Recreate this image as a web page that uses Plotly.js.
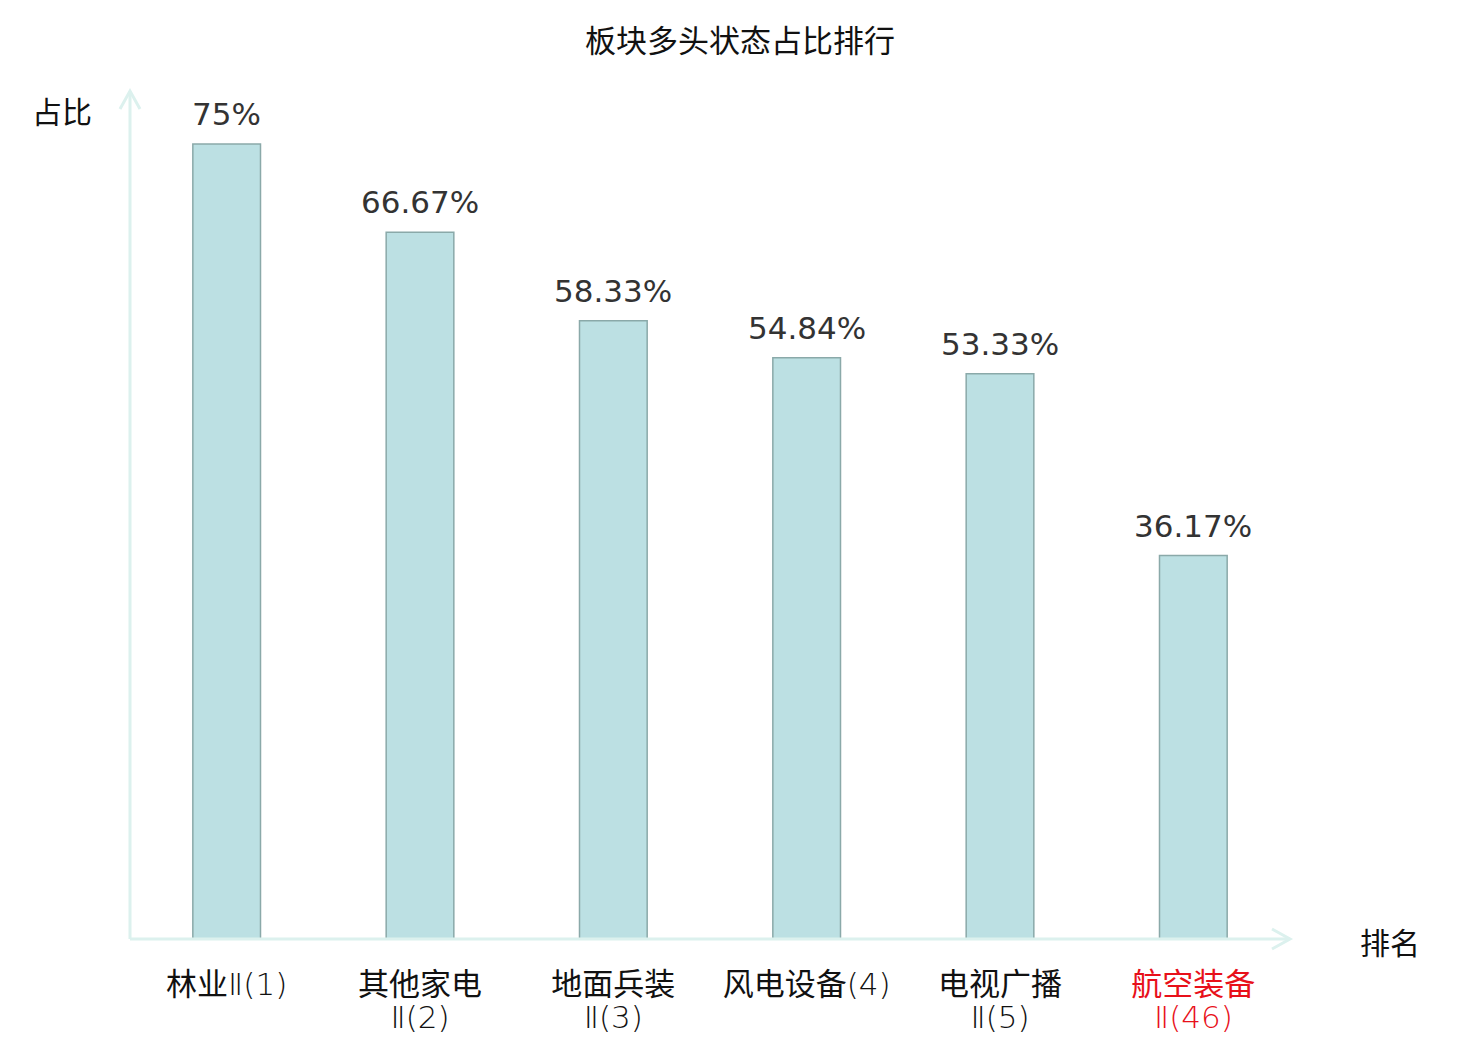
<!DOCTYPE html>
<html>
<head>
<meta charset="utf-8">
<script src="https://cdn.plot.ly/plotly-3.0.1.min.js"></script>
<style>html,body{margin:0;padding:0;background:#fff;}#chart{width:1480px;height:1040px;}</style>
</head>
<body>
<div id="chart"></div>
<script>
const categories = ["林业Ⅱ(1)", "其他家电Ⅱ(2)", "地面兵装Ⅱ(3)", "风电设备(4)", "电视广播Ⅱ(5)", "航空装备Ⅱ(46)"];
const tickLabels = ["林业Ⅱ(1)", "其他家电<br>Ⅱ(2)", "地面兵装<br>Ⅱ(3)", "风电设备(4)", "电视广播<br>Ⅱ(5)", "航空装备<br>Ⅱ(46)"];
const highlighted = [false, false, false, false, false, true];
const values = [75, 66.67, 58.33, 54.84, 53.33, 36.17];
const valueLabels = ["75%", "66.67%", "58.33%", "54.84%", "53.33%", "36.17%"];

const axisColor = "#dcf1ee";
const cjk = "Noto Sans CJK SC, sans-serif";

function styleLabel(txt, color) {
  return txt.split("<br>").map(line =>
    line.replace(/([Ⅱ()0-9]+)|([^Ⅱ()0-9]+)/g, (m, lat, cj) =>
      lat ? '<span style="font-family:DejaVu Sans;font-weight:200;font-size:31px;color:' + color + '">' + lat + '</span>'
          : '<span style="font-size:31px;color:' + color + '">' + cj + '</span>')
  ).join("<br>");
}
const styledTicks = tickLabels.map((t, i) => styleLabel(t, highlighted[i] ? "#e8101a" : "#111111"));

const trace = {
  type: "bar",
  x: categories,
  y: values,
  marker: {color: "#bce0e3", line: {color: "#8aa9a9", width: 1.5}},
  width: 0.35,
  hoverinfo: "none"
};

const valueAnnotations = categories.map((c, i) => ({
  x: c, y: values[i], xref: "x", yref: "y", text: valueLabels[i], showarrow: false,
  xanchor: "center", yanchor: "bottom", yshift: 10,
  font: {family: "DejaVu Sans, sans-serif", size: 31, color: "#333333"}
}));

const layout = {
  width: 1480, height: 1040,
  margin: {l: 130, r: 190, t: 91, b: 101},
  paper_bgcolor: "#ffffff", plot_bgcolor: "#ffffff",
  showlegend: false,
  title: {text: "板块多头状态占比排行", x: 0.5, xref: "container", xanchor: "center", y: 0.96, yref: "container", yanchor: "middle",
          font: {family: cjk, size: 31, color: "#111111"}},
  xaxis: {
    tickmode: "array", tickvals: categories, ticktext: styledTicks,
    showline: false, showgrid: false, zeroline: false, ticks: "",
    ticklabelstandoff: 30,
    tickfont: {family: cjk, size: 25, color: "#111111"},
    fixedrange: true
  },
  yaxis: {
    range: [0, 80], showticklabels: false, showgrid: false, zeroline: false, showline: false, ticks: "",
    fixedrange: true
  },
  shapes: [
    {type: "line", xref: "paper", yref: "paper", x0: 0, x1: 1, y0: 0, y1: 0, line: {color: axisColor, width: 3}},
    {type: "line", xref: "paper", yref: "paper", x0: 0, x1: 0, y0: 0, y1: 1, line: {color: axisColor, width: 3}},
    {type: "path", xref: "paper", yref: "paper", xsizemode: "pixel", ysizemode: "pixel", xanchor: 1, yanchor: 0,
     path: "M-18,10 L0,0 L-18,-10", line: {color: axisColor, width: 3}},
    {type: "path", xref: "paper", yref: "paper", xsizemode: "pixel", ysizemode: "pixel", xanchor: 0, yanchor: 1,
     path: "M-10,-18 L0,0 L10,-18", line: {color: axisColor, width: 3}}
  ],
  annotations: valueAnnotations.concat([
    {text: "占比", xref: "paper", yref: "paper", x: -0.0586, y: 0.9776, showarrow: false, xanchor: "center", yanchor: "middle",
     font: {family: cjk, size: 30, color: "#111111"}},
    {text: "排名", xref: "paper", yref: "paper", x: 1.086, y: -0.0024, showarrow: false, xanchor: "center", yanchor: "middle",
     font: {family: cjk, size: 30, color: "#111111"}}
  ])
};

Plotly.newPlot("chart", [trace], layout, {displayModeBar: false, staticPlot: true});
</script>
</body>
</html>
